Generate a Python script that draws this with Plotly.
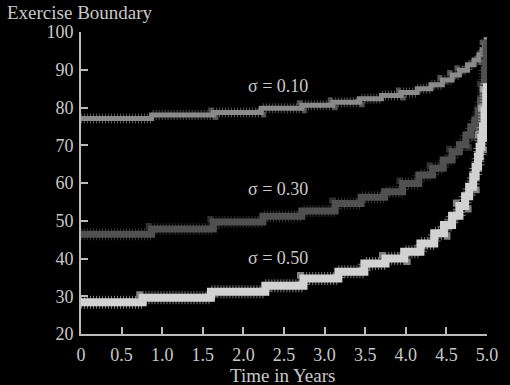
import plotly.graph_objects as go

# sigma = 0.10
t10 = [0, 0.87, 1.63, 2.22, 2.72, 3.10, 3.43, 3.70, 3.94, 4.14, 4.31, 4.45, 4.57, 4.66, 4.76, 4.84, 4.90, 4.94, 4.97, 4.99, 5.0]
v10 = [77.1, 78.0, 78.7, 79.8, 80.6, 81.4, 82.3, 83.2, 84.0, 85.0, 86.0, 87.3, 88.6, 89.9, 91.3, 92.6, 94.0, 95.3, 96.6, 98.0, 98.0]

# sigma = 0.30
t30 = [0, 0.87, 1.63, 2.24, 2.72, 3.13, 3.45, 3.74, 3.96, 4.16, 4.33, 4.46, 4.57, 4.66, 4.74, 4.80, 4.85, 4.89, 4.92, 4.95, 4.97, 4.99, 5.0]
v30 = [46.4, 47.8, 49.7, 51.2, 52.6, 54.6, 56.2, 57.7, 59.9, 62.1, 63.9, 66.1, 68.3, 70.1, 72.7, 74.9, 76.7, 79.3, 82.0, 85.5, 90.0, 96.0, 98.0]

# sigma = 0.50
t50 = [0, 0.76, 1.60, 2.27, 2.74, 3.17, 3.49, 3.75, 3.98, 4.18, 4.35, 4.47, 4.57, 4.66, 4.73, 4.78, 4.83, 4.86, 4.89, 4.91, 4.93, 4.95, 4.97, 4.99, 5.0]
v50 = [28.4, 29.6, 31.2, 32.8, 34.7, 36.5, 38.7, 40.0, 41.8, 44.0, 46.7, 48.9, 51.3, 53.9, 56.5, 59.0, 61.7, 64.3, 67.0, 69.6, 72.0, 75.0, 79.0, 84.0, 86.4]

x_ticks = [0, 0.5, 1.0, 1.5, 2.0, 2.5, 3.0, 3.5, 4.0, 4.5, 5.0]
x_tick_labels = ["0", "0.5", "1.0", "1.5", "2.0", "2.5", "3.0", "3.5", "4.0", "4.5", "5.0"]
y_ticks = [20, 30, 40, 50, 60, 70, 80, 90, 100]

labels = ["σ = 0.10", "σ = 0.30", "σ = 0.50"]
label_x = [2.42, 2.42, 2.42]
label_y = [85.7, 58.4, 40.1]

FONT = "Liberation Serif"
TXT = "#c8c8c8"

series = [
    (t10, v10, "#8a8a8a", 5, 10),
    (t30, v30, "#505050", 7, 12),
    (t50, v50, "#d2d2d2", 8, 13),
]

fig = go.Figure()
for t, v, col, core, hair in series:
    fig.add_trace(go.Scatter(x=t, y=v, mode="lines", line_shape="hv",
                             line=dict(color=col, width=hair, dash="1px,2px"),
                             opacity=0.6, hoverinfo="skip", showlegend=False))
    fig.add_trace(go.Scatter(x=t, y=v, mode="lines", line_shape="hv",
                             line=dict(color=col, width=core),
                             hoverinfo="skip", showlegend=False))

for txt, x, y in zip(labels, label_x, label_y):
    fig.add_annotation(x=x, y=y, text=txt, showarrow=False,
                       font=dict(family=FONT, size=18, color=TXT))

fig.add_annotation(xref="paper", yref="paper", x=-0.188, y=1.066, xanchor="left", yanchor="middle",
                   text="Exercise Boundary", showarrow=False,
                   font=dict(family=FONT, size=19, color=TXT))
fig.add_annotation(xref="paper", yref="paper", x=0.497, y=-0.139, xanchor="center", yanchor="middle",
                   text="Time in Years", showarrow=False,
                   font=dict(family=FONT, size=19, color=TXT))

fig.update_layout(
    width=510, height=385,
    margin=dict(l=81, r=20, t=32, b=51),
    paper_bgcolor="black", plot_bgcolor="black",
    font=dict(family=FONT, size=17, color=TXT),
    xaxis=dict(range=[0, 5], tickvals=x_ticks, ticktext=x_tick_labels,
               showgrid=False, zeroline=False, showline=True, linecolor="#bbbbbb", linewidth=2,
               ticks="inside", ticklen=7, tickcolor="#bbbbbb", tickwidth=2, ticklabelstandoff=3,
               tickfont=dict(family=FONT, size=18, color=TXT)),
    yaxis=dict(range=[20, 100], tickvals=y_ticks,
               showgrid=False, zeroline=False, showline=True, linecolor="#bbbbbb", linewidth=2,
               ticks="inside", ticklen=7, tickcolor="#bbbbbb", tickwidth=2, ticklabelstandoff=2,
               tickfont=dict(family=FONT, size=18, color=TXT)),
)

fig.write_html("out.html", config={"displayModeBar": False},
               post_script="document.body.style.margin='0';document.body.style.background='black';")
